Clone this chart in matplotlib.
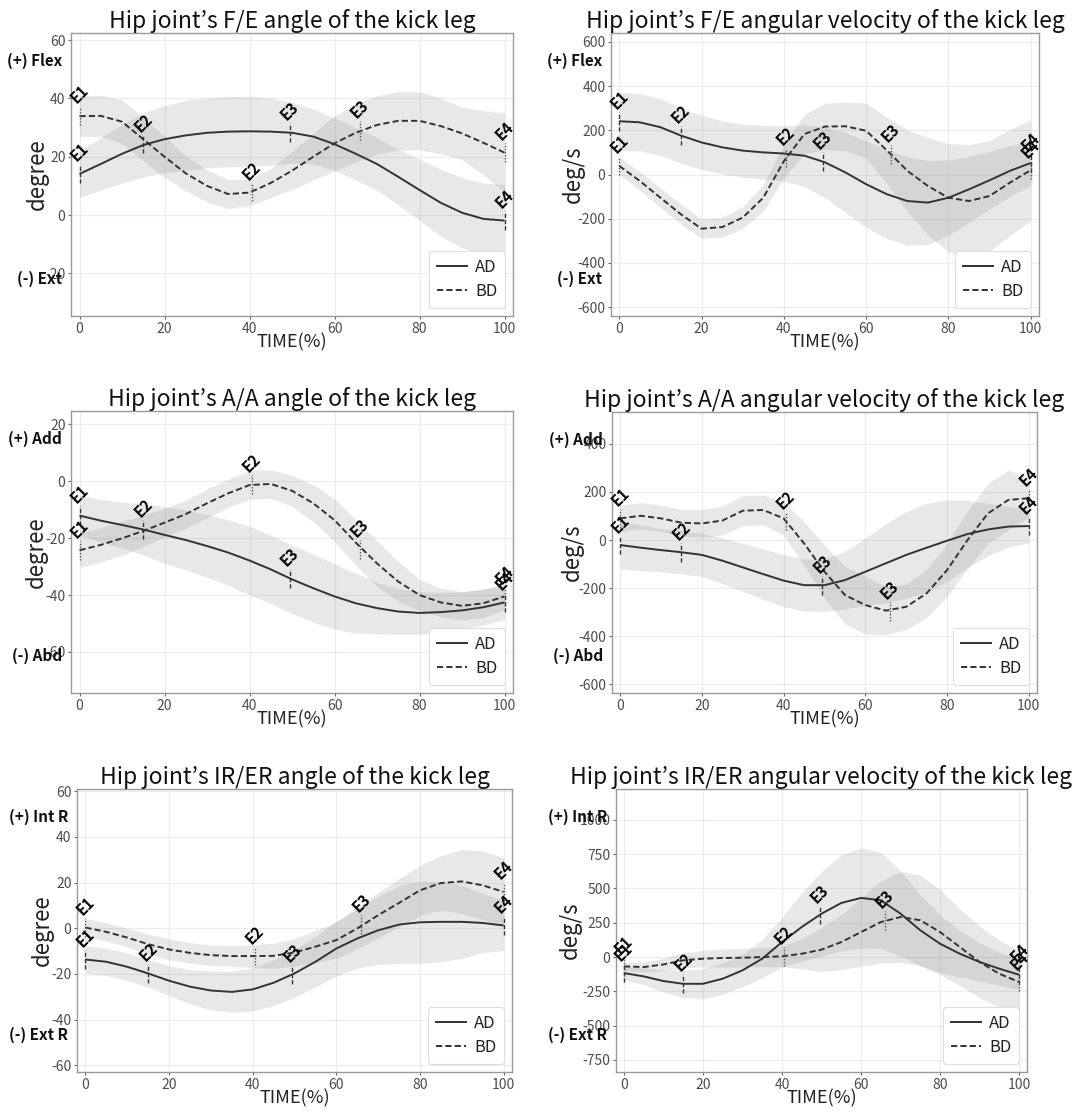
import matplotlib
matplotlib.use('Agg')
import matplotlib.pyplot as plt
from matplotlib.lines import Line2D

plt.rcParams['font.family'] = ['Noto Sans CJK KR', 'DejaVu Sans']
plt.rcParams['axes.unicode_minus'] = False

W, H = 1082, 1112

# ---------------- data ----------------
time = [0, 5, 10, 15, 20, 25, 30, 35, 40, 45, 50, 55, 60, 65, 70, 75, 80, 85, 90, 95, 100]
ad_event_x = [0, 15, 49.5, 100]
bd_event_x = [0, 40.5, 66, 100]
event_names = ['E1', 'E2', 'E3', 'E4']

# F/E angle
fe_ang_ad_mean = [14.1, 17.5, 21.0, 24.0, 26.0, 27.3, 28.2, 28.6, 28.7, 28.6, 28.2, 26.9, 24.3, 21.0, 17.5, 13.1, 8.6, 4.2, 0.8, -1.3, -1.9]
fe_ang_ad_sd = [8, 9, 10, 11, 11.5, 12, 12, 12, 12, 11.5, 10.5, 9.5, 9, 9, 9, 9.5, 10.5, 11.5, 12, 12.3, 12.3]
fe_ang_bd_mean = [33.9, 34.0, 32.0, 26.0, 20.0, 14.3, 10.0, 7.2, 7.7, 11.0, 15.2, 20.0, 24.6, 28.2, 30.9, 32.3, 32.3, 30.5, 28.0, 24.8, 21.4]
fe_ang_bd_sd = [7, 7, 7.5, 7.5, 7, 6, 5.5, 5, 4.5, 5, 6.5, 8, 9.5, 10, 10, 10, 10, 9.5, 9, 11, 13.5]
fe_ang_ad_event_y = [14.1, 24.3, 28.2, -1.9]
fe_ang_bd_event_y = [34.0, 7.9, 28.9, 21.4]

# F/E angular velocity
fe_vel_ad_mean = [241, 236, 214, 176, 145, 123, 108, 100, 95, 85, 55, 9, -44, -89, -120, -127, -105, -67, -26, 17, 52]
fe_vel_ad_sd = [130, 130, 128, 125, 122, 120, 120, 122, 125, 140, 160, 180, 195, 200, 200, 190, 170, 150, 130, 115, 100]
fe_vel_bd_mean = [39, -29, -105, -180, -245, -238, -195, -105, 60, 183, 217, 218, 198, 110, 17, -52, -105, -120, -97, -36, 20]
fe_vel_bd_sd = [40, 42, 45, 45, 45, 45, 50, 60, 75, 90, 105, 110, 125, 150, 185, 220, 245, 255, 250, 240, 228]
fe_vel_ad_event_y = [241, 176, 58, 52]
fe_vel_bd_event_y = [39, 75, 90, 20]

# A/A angle
aa_ang_ad_mean = [-12.1, -13.9, -15.4, -17.0, -18.9, -20.7, -22.8, -25.1, -27.9, -31.0, -34.5, -37.6, -40.5, -42.9, -44.6, -45.8, -46.3, -46.0, -45.4, -44.3, -42.6]
aa_ang_ad_sd = [7, 7.5, 8, 9, 10, 10.5, 11, 11.5, 12, 12, 12, 12, 11.5, 10.5, 9, 8, 7.5, 7, 6.5, 6.3, 6]
aa_ang_bd_mean = [-24.3, -22.4, -20.1, -17.5, -14.6, -11.6, -7.8, -4.3, -1.4, -1.0, -3.4, -7.8, -13.7, -21.6, -28.9, -35.3, -40.0, -42.6, -43.8, -42.9, -40.5]
aa_ang_bd_sd = [6, 6, 6, 5.5, 5, 5, 5, 5, 5, 5, 5.5, 6.5, 7.5, 8, 8, 7, 5.5, 5, 5, 5, 4.5]
aa_ang_ad_event_y = [-12.1, -17.0, -34.2, -42.6]
aa_ang_bd_event_y = [-24.3, -1.2, -24.0, -40.5]

# A/A angular velocity
aa_vel_ad_mean = [-21, -32, -42, -51, -62, -86, -114, -142, -169, -188, -188, -167, -132, -97, -62, -32, -3, 25, 44, 56, 58]
aa_vel_ad_sd = [100, 95, 90, 90, 90, 95, 100, 105, 108, 108, 110, 120, 140, 165, 180, 185, 170, 140, 110, 85, 70]
aa_vel_bd_mean = [90, 101, 90, 72, 69, 81, 122, 125, 90, -14, -132, -229, -271, -294, -278, -222, -125, 0, 111, 167, 174]
aa_vel_bd_sd = [55, 55, 55, 55, 58, 60, 62, 62, 70, 90, 110, 120, 120, 100, 95, 100, 110, 120, 125, 125, 80]
aa_vel_ad_event_y = [-21, -51, -190, 58]
aa_vel_bd_event_y = [90, 79, -298, 174]

# IR/ER angle
ie_ang_ad_mean = [-13.7, -14.7, -16.9, -19.8, -23.0, -25.6, -27.3, -27.9, -26.8, -23.9, -19.8, -14.7, -8.9, -4.5, -0.9, 1.6, 2.6, 2.8, 2.8, 2.3, 1.2]
ie_ang_ad_sd = [6, 6, 6, 6, 6.5, 7.5, 8.5, 9, 9.5, 10, 10.5, 11, 12, 13, 15, 17, 18, 17.5, 16, 13, 11]
ie_ang_bd_mean = [0.3, -1.6, -4.1, -7.0, -9.3, -10.8, -11.8, -12.2, -12.2, -12.1, -10.6, -8.1, -5.2, -0.1, 5.7, 11.1, 16.6, 19.8, 20.5, 18.8, 15.9]
ie_ang_bd_sd = [4, 4, 4, 4.5, 4.5, 4.5, 4.5, 4.5, 5, 5.5, 6, 7, 8, 9, 10, 10.5, 11, 12, 14, 15, 15]
ie_ang_ad_event_y = [-13.7, -19.8, -20.2, 1.2]
ie_ang_bd_event_y = [0.3, -12.2, 1.5, 15.9]

# IR/ER angular velocity
ie_vel_ad_mean = [-117, -141, -175, -195, -195, -158, -97, -12, 109, 219, 316, 394, 431, 414, 316, 195, 97, 24, -36, -85, -129]
ie_vel_ad_sd = [50, 60, 80, 100, 110, 115, 120, 140, 180, 250, 310, 350, 365, 350, 310, 260, 210, 170, 140, 120, 110]
ie_vel_bd_mean = [-68, -73, -54, -24, -12, -7, -5, 0, 5, 24, 54, 109, 182, 255, 292, 268, 182, 73, -36, -122, -182]
ie_vel_bd_sd = [30, 35, 45, 55, 60, 65, 68, 70, 75, 110, 160, 200, 250, 300, 330, 330, 310, 280, 260, 245, 231]
ie_vel_ad_event_y = [-117, -195, 306, -129]
ie_vel_bd_event_y = [-68, 6, 265, -182]

titles = ["Hip joint\u2019s F/E angle of the kick leg",
          "Hip joint\u2019s F/E angular velocity of the kick leg",
          "Hip joint\u2019s A/A angle of the kick leg",
          "Hip joint\u2019s A/A angular velocity of the kick leg",
          "Hip joint\u2019s IR/ER angle of the kick leg",
          "Hip joint\u2019s IR/ER angular velocity of the kick leg"]
ylabels = ['degree', 'deg/s', 'degree', 'deg/s', 'degree', 'deg/s']
pos_labels = ['(+) Flex', '(+) Flex', '(+) Add', '(+) Add', '(+) Int R', '(+) Int R']
neg_labels = ['(-) Ext', '(-) Ext', '(-) Abd', '(-) Abd', '(-) Ext R', '(-) Ext R']
yticks_list = [[-20, 0, 20, 40, 60],
               [-600, -400, -200, 0, 200, 400, 600],
               [-60, -40, -20, 0, 20],
               [-600, -400, -200, 0, 200, 400],
               [-60, -40, -20, 0, 20, 40, 60],
               [-750, -500, -250, 0, 250, 500, 750, 1000]]
xticks = [0, 20, 40, 60, 80, 100]

panels = [
    (fe_ang_ad_mean, fe_ang_ad_sd, fe_ang_bd_mean, fe_ang_bd_sd, fe_ang_ad_event_y, fe_ang_bd_event_y),
    (fe_vel_ad_mean, fe_vel_ad_sd, fe_vel_bd_mean, fe_vel_bd_sd, fe_vel_ad_event_y, fe_vel_bd_event_y),
    (aa_ang_ad_mean, aa_ang_ad_sd, aa_ang_bd_mean, aa_ang_bd_sd, aa_ang_ad_event_y, aa_ang_bd_event_y),
    (aa_vel_ad_mean, aa_vel_ad_sd, aa_vel_bd_mean, aa_vel_bd_sd, aa_vel_ad_event_y, aa_vel_bd_event_y),
    (ie_ang_ad_mean, ie_ang_ad_sd, ie_ang_bd_mean, ie_ang_bd_sd, ie_ang_ad_event_y, ie_ang_bd_event_y),
    (ie_vel_ad_mean, ie_vel_ad_sd, ie_vel_bd_mean, ie_vel_bd_sd, ie_vel_ad_event_y, ie_vel_bd_event_y),
]

# ---------------- layout (pixels: left, right, top, bottom) ----------------
rects_px = [(71, 513, 33, 316), (611, 1039, 33, 316),
            (71, 513, 411, 693), (612, 1037, 412, 693),
            (77, 512, 789, 1072), (616, 1027, 789, 1072)]
ylims = [(-34.6, 62.4), (-640, 640), (-74.4, 24.6), (-637, 533), (-63, 61), (-838, 1225)]
ylabel_x_px = [37, 573, 36, 572, 42, 570]

fig = plt.figure(figsize=(W / 100, H / 100), dpi=100)
fig.patch.set_facecolor('white')

band_color = '#7b7b7b'
band_alpha = 0.17
line_color = '#333333'
dash = (0, (3.2, 1.6))

for i, (ad_m, ad_s, bd_m, bd_s, ad_ev, bd_ev) in enumerate(panels):
    l, r, t, b = rects_px[i]
    ax = fig.add_axes([l / W, 1 - b / H, (r - l) / W, (b - t) / H])
    ax.set_xlim(-2, 102)
    ax.set_ylim(*ylims[i])
    ax.set_xticks(xticks)
    ax.set_yticks(yticks_list[i])
    ax.grid(True, color='#ececec', linewidth=0.8)
    ax.set_axisbelow(True)
    for sp in ax.spines.values():
        sp.set_color('#9a9a9a')
        sp.set_linewidth(1.0)
    ax.tick_params(axis='both', labelsize=10, labelcolor='#4d4d4d', color='#666666',
                   length=2.5, width=0.8, pad=1.5)

    ad_lo = [m - s for m, s in zip(ad_m, ad_s)]
    ad_hi = [m + s for m, s in zip(ad_m, ad_s)]
    bd_lo = [m - s for m, s in zip(bd_m, bd_s)]
    bd_hi = [m + s for m, s in zip(bd_m, bd_s)]
    ax.fill_between(time, ad_lo, ad_hi, color=band_color, alpha=band_alpha, linewidth=0)
    ax.fill_between(time, bd_lo, bd_hi, color=band_color, alpha=band_alpha, linewidth=0)
    ax.plot(time, ad_m, color=line_color, linewidth=1.4, solid_capstyle='butt')
    ax.plot(time, bd_m, color=line_color, linewidth=1.4, linestyle=dash)

    yr = ylims[i][1] - ylims[i][0]
    half = 0.033 * yr
    for xe, ye, name in zip(ad_event_x, ad_ev, event_names):
        ax.plot([xe, xe], [ye - half, ye + half], color='#333333', linewidth=1.0,
                linestyle=(0, (3, 1.5)))
        ax.text(xe, ye + half, name, rotation=45, ha='center', va='bottom',
                fontsize=11, fontweight='bold', color='black')
    for xe, ye, name in zip(bd_event_x, bd_ev, event_names):
        ax.plot([xe, xe], [ye - half, ye + half], color='#555555', linewidth=1.0,
                linestyle=(0, (1, 1.2)))
        ax.text(xe, ye + half, name, rotation=45, ha='center', va='bottom',
                fontsize=11, fontweight='bold', color='black')

    ax.set_title(titles[i], fontsize=16.5, color='#111111', pad=2)
    ax.set_xlabel('TIME(%)', fontsize=13, color='#222222')
    ax.xaxis.set_label_coords(0.5, -26 / (b - t))
    ax.xaxis.label.set_va('center')
    ax.set_ylabel(ylabels[i], fontsize=16, color='#222222')
    ax.yaxis.set_label_coords((ylabel_x_px[i] - l) / (r - l), 0.5)
    ax.yaxis.label.set_va('center')

    xoff = -9 / (r - l)
    ax.text(xoff, 0.90, pos_labels[i], transform=ax.transAxes, ha='right', va='center',
            fontsize=11, fontweight='bold', color='#111111')
    ax.text(xoff, 0.131, neg_labels[i], transform=ax.transAxes, ha='right', va='center',
            fontsize=11, fontweight='bold', color='#111111')

    handles = [Line2D([], [], color=line_color, linewidth=1.4),
               Line2D([], [], color=line_color, linewidth=1.4, linestyle=dash)]
    leg = ax.legend(handles, ['AD', 'BD'], loc='lower right', fontsize=12,
                    handlelength=1.8, borderaxespad=0.5, framealpha=1, handletextpad=0.5,
                    edgecolor='#dddddd', fancybox=True, borderpad=0.45, labelspacing=0.45)
    leg.get_frame().set_linewidth(0.8)
    for txt in leg.get_texts():
        txt.set_color('#222222')

fig.savefig('out.png', dpi=100, facecolor='white')
